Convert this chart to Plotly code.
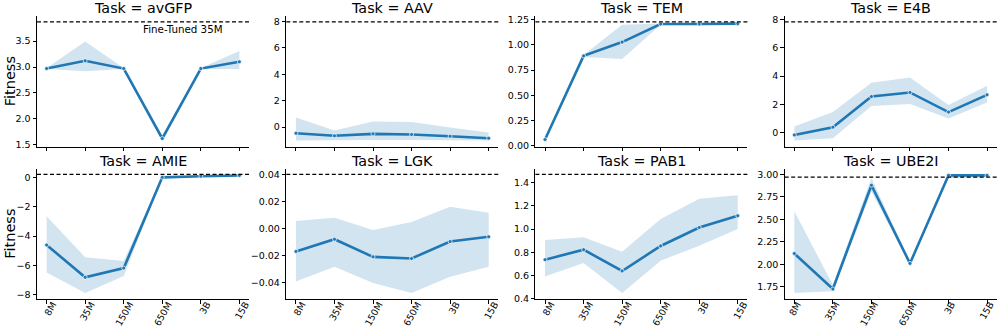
import plotly.graph_objects as go
from plotly.subplots import make_subplots

# ---------------------------------------------------------------------------
# Data
# ---------------------------------------------------------------------------
MODELS = ["8M", "35M", "150M", "650M", "3B", "15B"]
TASKS = ["avGFP", "AAV", "TEM", "E4B", "AMIE", "LGK", "PAB1", "UBE2I"]

MEAN = {
    "avGFP": [2.97, 3.12, 2.97, 1.62, 2.97, 3.10],
    "AAV":   [-0.46, -0.66, -0.51, -0.56, -0.69, -0.84],
    "TEM":   [0.06, 0.89, 1.027, 1.206, 1.206, 1.21],
    "E4B":   [-0.17, 0.38, 2.55, 2.84, 1.45, 2.67],
    "AMIE":  [-4.61, -6.82, -6.19, 0.02, 0.10, 0.15],
    "LGK":   [-0.0168, -0.0078, -0.0208, -0.022, -0.0095, -0.006],
    "PAB1":  [0.737, 0.823, 0.64, 0.855, 1.014, 1.115],
    "UBE2I": [2.12, 1.725, 2.88, 2.01, 2.99, 2.99],
}
LOWER = {
    "avGFP": [2.96, 2.92, 2.96, 1.58, 2.96, 2.96],
    "AAV":   [-1.02, -1.00, -0.97, -0.97, -0.97, -1.02],
    "TEM":   [0.05, 0.88, 0.86, 1.20, 1.20, 1.205],
    "E4B":   [-0.57, -0.40, 1.88, 2.03, 1.00, 2.13],
    "AMIE":  [-6.50, -7.90, -6.73, -0.02, 0.07, 0.12],
    "LGK":   [-0.039, -0.028, -0.040, -0.0475, -0.0354, -0.028],
    "PAB1":  [0.593, 0.708, 0.45, 0.728, 0.857, 1.00],
    "UBE2I": [1.68, 1.70, 2.81, 1.99, 2.96, 2.97],
}
UPPER = {
    "avGFP": [2.98, 3.49, 2.98, 1.65, 2.98, 3.31],
    "AAV":   [0.73, -0.26, 0.43, 0.38, -0.03, -0.41],
    "TEM":   [0.07, 0.90, 1.20, 1.212, 1.212, 1.215],
    "E4B":   [0.43, 1.45, 3.53, 3.90, 1.95, 3.31],
    "AMIE":  [-2.65, -5.45, -5.70, 0.06, 0.13, 0.18],
    "LGK":   [0.0056, 0.008, -0.001, 0.0049, 0.0161, 0.0117],
    "PAB1":  [0.906, 0.93, 0.805, 1.087, 1.26, 1.29],
    "UBE2I": [2.59, 1.77, 2.96, 2.03, 3.00, 3.00],
}
FINETUNED = {
    "avGFP": 3.87, "AAV": 7.97, "TEM": 1.227, "E4B": 7.84,
    "AMIE": 0.22, "LGK": 0.04, "PAB1": 1.47, "UBE2I": 2.97,
}
TICK_STEP = {
    "avGFP": 0.5, "AAV": 2, "TEM": 0.25, "E4B": 2,
    "AMIE": 2, "LGK": 0.02, "PAB1": 0.2, "UBE2I": 0.25,
}
TICK_FMT = {
    "avGFP": ".1f", "AAV": "d", "TEM": ".2f", "E4B": "d",
    "AMIE": "d", "LGK": ".2f", "PAB1": ".1f", "UBE2I": ".2f",
}

# ---------------------------------------------------------------------------
# Layout geometry (pixels of the 997x329 canvas)
# ---------------------------------------------------------------------------
W, H = 997, 329
COL_LEFT = [37, 286.3, 535.4, 784.7]
AX_W = 212
ROW_TOP = [16, 168.5]
AX_H = 130.5
BLUE = "#1f77b4"
FONT = "DejaVu Sans"

fig = make_subplots(rows=2, cols=4)

for i, task in enumerate(TASKS):
    r, c = i // 4, i % 4
    x = list(range(len(MODELS)))
    lo, hi, mean = LOWER[task], UPPER[task], MEAN[task]

    fig.add_trace(go.Scatter(
        x=x + x[::-1], y=hi + lo[::-1],
        fill="toself", fillcolor="rgba(31,119,180,0.2)",
        line=dict(color="rgba(0,0,0,0)", width=0),
        hoverinfo="skip", showlegend=False,
    ), row=r + 1, col=c + 1)
    fig.add_trace(go.Scatter(
        x=x, y=mean, mode="lines+markers",
        line=dict(color=BLUE, width=2.6),
        marker=dict(size=4, color=BLUE, line=dict(color="white", width=0.7)),
        showlegend=False,
    ), row=r + 1, col=c + 1)

    # fine-tuned reference line across the whole axes
    axn = "" if i == 0 else str(i + 1)
    fig.add_shape(
        type="line", xref=f"x{axn} domain", yref=f"y{axn}",
        x0=0, x1=1, y0=FINETUNED[task], y1=FINETUNED[task],
        line=dict(color="black", width=1.2, dash="4px,2.5px"),
    )

    # y range like matplotlib autoscale: data + ref line, 5% margins
    vals = lo + hi + mean + [FINETUNED[task]]
    vmin, vmax = min(vals), max(vals)
    pad = 0.05 * (vmax - vmin)

    x0 = COL_LEFT[c] / W
    y_top = 1 - ROW_TOP[r] / H
    y_bot = 1 - (ROW_TOP[r] + AX_H) / H
    fig.update_xaxes(
        domain=[x0, x0 + AX_W / W], range=[-0.25, 5.25],
        tickvals=x, ticktext=MODELS, tickangle=-60,
        # last column sits against the right edge of the canvas
        ticklabelshift=3 if c == 3 else 6,
        ticklabelstandoff=-8, ticklabeloverflow="allow",
        showticklabels=(r == 1),
        row=r + 1, col=c + 1,
    )
    fig.update_yaxes(
        domain=[y_bot, y_top], range=[vmin - pad, vmax + pad],
        dtick=TICK_STEP[task], tick0=0, tickformat=TICK_FMT[task],
        row=r + 1, col=c + 1,
    )

    fig.add_annotation(
        text=f"Task = {task}", xref="paper", yref="paper",
        x=(COL_LEFT[c] + AX_W / 2) / W, y=1 - (ROW_TOP[r] - 8) / H,
        xanchor="center", yanchor="middle", showarrow=False,
        font=dict(size=14.3, color="black", family=FONT),
    )

fig.update_xaxes(
    showgrid=False, zeroline=False, showline=True, linecolor="black",
    linewidth=1, ticks="outside", ticklen=3.5, tickwidth=0.8,
    tickcolor="black", tickfont=dict(size=9.3, color="black", family=FONT),
    automargin=False,
)
fig.update_yaxes(
    showgrid=False, zeroline=False, showline=True, linecolor="black",
    linewidth=1, ticks="outside", ticklen=3.5, tickwidth=0.8,
    tickcolor="black", tickfont=dict(size=9.5, color="black", family=FONT),
    automargin=False,
)

for r in range(2):
    fig.add_annotation(
        text="Fitness", xref="paper", yref="paper", textangle=-90,
        x=10 / W, y=1 - (ROW_TOP[r] + AX_H / 2) / H,
        xanchor="center", yanchor="middle", showarrow=False,
        font=dict(size=14.5, color="black", family=FONT),
    )

fig.add_annotation(
    text="Fine-Tuned 35M", xref="x domain", yref="y domain",
    x=0.69, y=0.9, xanchor="center", yanchor="middle", showarrow=False,
    font=dict(size=10.3, color="black", family=FONT),
)

fig.update_layout(
    width=W, height=H,
    margin=dict(l=0, r=0, t=0, b=0),
    plot_bgcolor="white", paper_bgcolor="white",
    font=dict(family=FONT, color="black"),
)

# the page body keeps the browser's default 8px margin otherwise
fig.write_html(
    "out.html",
    config={"displayModeBar": False},
    post_script="document.body.style.margin='0px';",
)
